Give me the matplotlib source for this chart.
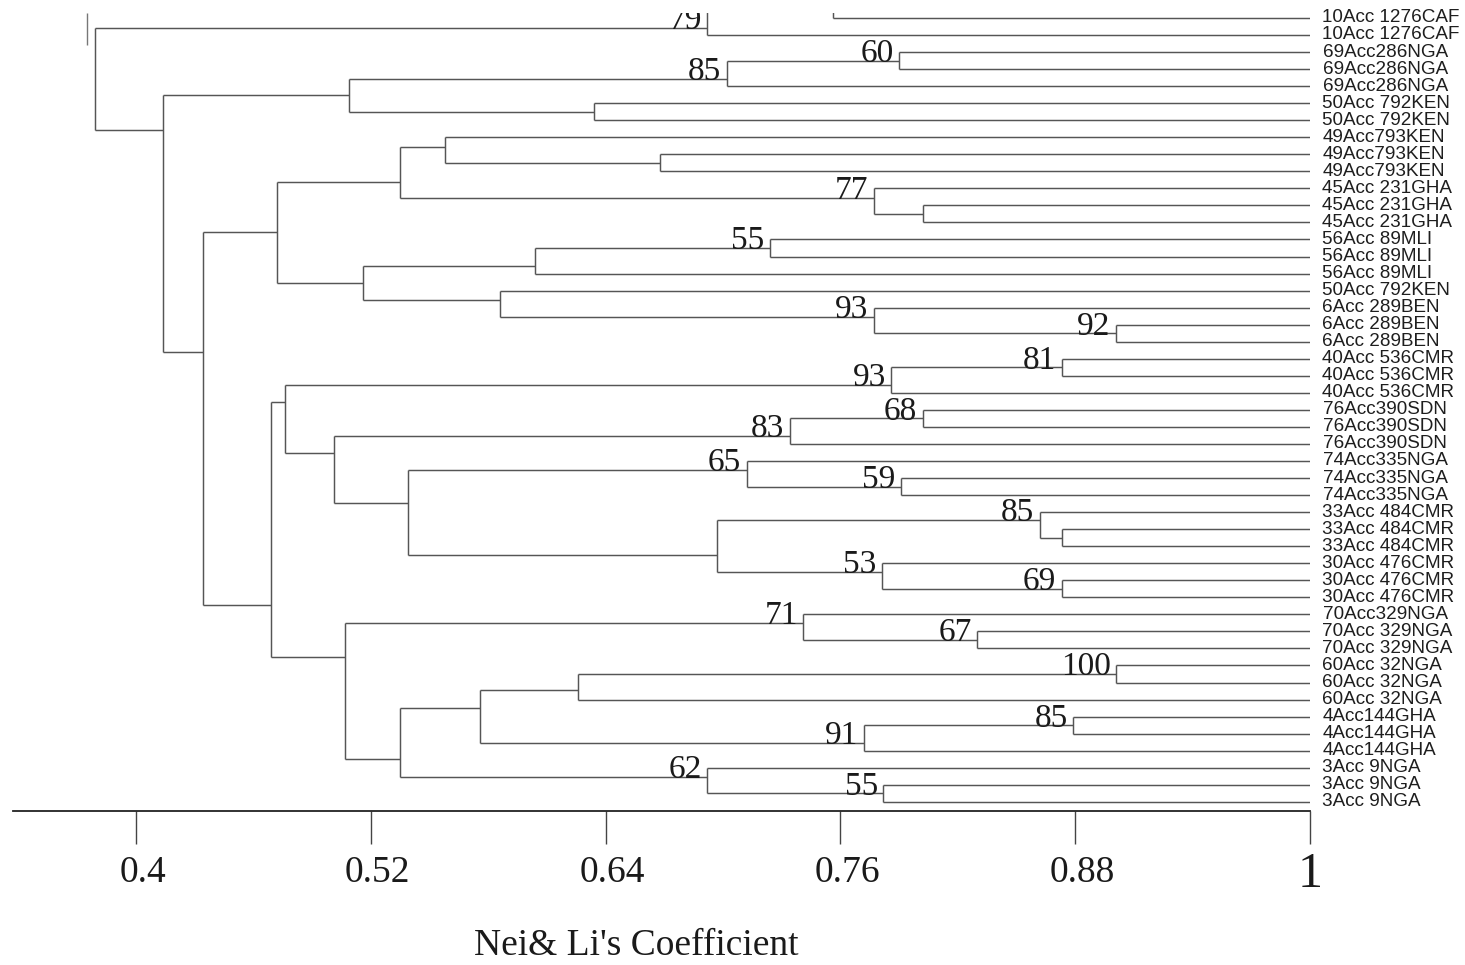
import matplotlib
matplotlib.use("Agg")
import matplotlib.pyplot as plt
from matplotlib.transforms import ScaledTranslation

# Leaf names, top to bottom
leaf_labels = [
    "10Acc 1276CAF", "10Acc 1276CAF",
    "69Acc286NGA", "69Acc286NGA", "69Acc286NGA",
    "50Acc 792KEN", "50Acc 792KEN",
    "49Acc793KEN", "49Acc793KEN", "49Acc793KEN",
    "45Acc 231GHA", "45Acc 231GHA", "45Acc 231GHA",
    "56Acc 89MLI", "56Acc 89MLI", "56Acc 89MLI",
    "50Acc 792KEN",
    "6Acc 289BEN", "6Acc 289BEN", "6Acc 289BEN",
    "40Acc 536CMR", "40Acc 536CMR", "40Acc 536CMR",
    "76Acc390SDN", "76Acc390SDN", "76Acc390SDN",
    "74Acc335NGA", "74Acc335NGA", "74Acc335NGA",
    "33Acc 484CMR", "33Acc 484CMR", "33Acc 484CMR",
    "30Acc 476CMR", "30Acc 476CMR", "30Acc 476CMR",
    "70Acc329NGA", "70Acc 329NGA", "70Acc 329NGA",
    "60Acc 32NGA", "60Acc 32NGA", "60Acc 32NGA",
    "4Acc144GHA", "4Acc144GHA", "4Acc144GHA",
    "3Acc 9NGA", "3Acc 9NGA", "3Acc 9NGA",
]

# the tree is cut at the top of the figure: one branch runs off the crop
cut_leaf_row = -2.0

# merges: node id, two children (int = leaf, str = node), similarity,
# bootstrap value, and the row where the clade joins its parent
node_ids = ["X", "N79", "N60", "N85a", "P50", "C", "N8", "N7", "N11", "N77",
            "G", "N55a", "N536", "N92", "N93a", "N499", "H", "D1", "N81", "N93b",
            "N68", "N83", "N59", "N65", "N30", "N85b", "N69", "N53", "M", "L",
            "K", "E", "N67", "N71", "N100", "T", "N85c", "N91", "S", "N55b",
            "N62", "Q", "F", "D2", "D", "B", "R"]
node_left = ["cut", "X", 2, "N60", 5, "N85a", 8, 7, 11, 10,
             "N7", 13, "N55a", 18, 17, 16, "N536", "G", 20, "N81",
             23, "N68", 27, 26, 30, 29, 33, 32, "N85b", "N65",
             "N83", "N93b", 36, 35, 38, "N100", 41, "N85c", "T", 45,
             44, "S", "N71", "E", "D1", "C", "N79"]
node_right = [0, 1, 3, 4, 6, "P50", 9, "N8", 12, "N11",
              "N77", 14, 15, 19, "N92", "N93a", "N499", "H", 21, 22,
              24, 25, 28, "N59", 31, "N30", 34, "N69", "N53", "M",
              "L", "K", 37, "N67", 39, 40, 42, 43, "N91", 46,
              "N55b", "N62", "Q", "F", "D2", "D", "B"]
node_sim = [0.756, 0.692, 0.790, 0.702, 0.634, 0.509, 0.668, 0.558, 0.802, 0.777,
            0.535, 0.724, 0.604, 0.901, 0.777, 0.586, 0.516, 0.472, 0.873, 0.786,
            0.802, 0.734, 0.791, 0.712, 0.873, 0.862, 0.873, 0.781, 0.697, 0.539,
            0.501, 0.476, 0.830, 0.741, 0.901, 0.626, 0.879, 0.772, 0.576, 0.782,
            0.692, 0.535, 0.507, 0.469, 0.434, 0.414, 0.379]
node_boot = [None, 79, 60, 85, None, None, None, None, None, 77,
             None, 55, None, 92, 93, None, None, None, 81, 93,
             68, 83, 59, 65, None, 85, 69, 53, None, None,
             None, None, 67, 71, 100, None, 85, 91, None, 55,
             62, None, None, None, None, None, None]
node_row = [-1.0, 0.59, 2.5, 3.58, 5.5, 4.55, 8.5, 7.57, 11.5, 10.56,
            9.62, 13.5, 14.55, 18.5, 17.55, 16.55, 15.55, 12.56, 20.5, 21.54,
            23.5, 24.53, 27.5, 26.53, 30.5, 29.46, 33.5, 32.51, 31.51, 28.46,
            25.53, 22.54, 36.5, 35.5, 38.5, 39.44, 41.5, 42.55, 40.49, 45.5,
            44.54, 43.49, 37.5, 34.45, 19.6, 6.57, 3.6]

# a stray piece of the cropped-off upper tree: similarity, row span
fragment_sim = 0.375
fragment_rows = (-0.3, 1.6)

tick_values = [0.4, 0.52, 0.64, 0.76, 0.88, 1.0]
tick_labels = ["0.4", "0.52", "0.64", "0.76", "0.88", "1"]
x_title = "Nei& Li's Coefficient"

line_color = "#555555"
serif = ["Liberation Serif", "DejaVu Serif"]
sans = ["Liberation Sans", "DejaVu Sans"]

fig = plt.figure(figsize=(14.65, 9.65), dpi=100)
ax = fig.add_axes([13 / 1465, 1 - 811 / 965, 1297 / 1465, 798 / 965])

# position lookup: (x, row) for leaves and nodes
pos = {i: (1.0, float(i)) for i in range(len(leaf_labels))}
pos["cut"] = (1.0, cut_leaf_row)
for nid, s, r in zip(node_ids, node_sim, node_row):
    pos[nid] = (s, r)

for nid, a, b, s, bs in zip(node_ids, node_left, node_right, node_sim, node_boot):
    ra, rb = pos[a][1], pos[b][1]
    ax.vlines(s, ra, rb, color=line_color, lw=1.05)
    for child in (a, b):
        cx, cr = pos[child]
        ax.hlines(cr, s, cx, color=line_color, lw=1.05)
    if bs is not None:
        t = ax.annotate(str(bs), xy=(s, pos[nid][1]), xytext=(-4, -1),
                        textcoords="offset points", ha="right", va="baseline",
                        fontsize=24, family=serif, color="#1a1a1a")
        t.set_clip_on(True)
        t.set_clip_path(ax.patch)

ax.vlines(fragment_sim, fragment_rows[0], fragment_rows[1], color="#777777", lw=1.0)

for i, name in enumerate(leaf_labels):
    ax.annotate(name, xy=(1.0, i), xytext=(9, 0), textcoords="offset points",
                ha="left", va="center", fontsize=13.6, family=sans,
                color="#1e1e1e", annotation_clip=False)

ax.set_xlim(0.3371, 1.0)
ax.set_ylim(46.54, -0.29)

for side in ["top", "left", "right"]:
    ax.spines[side].set_visible(False)
ax.spines["bottom"].set_color("#222222")
ax.spines["bottom"].set_linewidth(1.3)
ax.set_yticks([])
ax.set_xticks(tick_values)
ax.set_xticklabels(tick_labels, fontsize=27, family=serif, color="#1a1a1a")
ax.tick_params(axis="x", direction="out", length=24, width=1.0,
               color="#444444", pad=8)
labels = ax.get_xticklabels()
shift = ScaledTranslation(5 / 72, 0, fig.dpi_scale_trans)
for lab in labels[:-1]:
    lab.set_transform(lab.get_transform() + shift)
# the "1" is printed larger and sits a little higher in the reference
labels[-1].set_fontsize(36)
labels[-1].set_transform(labels[-1].get_transform()
                         + ScaledTranslation(0, 3 / 72, fig.dpi_scale_trans))

fig.text(636 / 1465, 1 - 946 / 965, x_title, ha="center", va="center",
         fontsize=27, family=serif, color="#1a1a1a")

fig.savefig("out.png", dpi=100)
